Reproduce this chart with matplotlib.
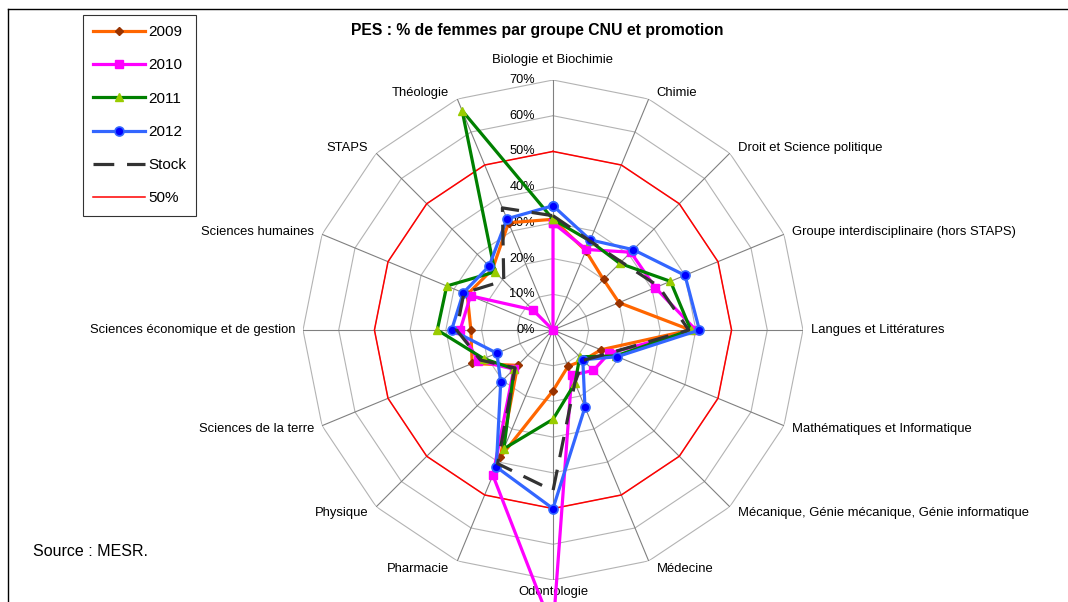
import numpy as np
import matplotlib
matplotlib.use("Agg")
import matplotlib.pyplot as plt
from matplotlib.lines import Line2D

plt.rcParams['font.family'] = ['Liberation Sans', 'DejaVu Sans']

categories = ["Biologie et Biochimie", "Chimie", "Droit et Science politique",
              "Groupe interdisciplinaire (hors STAPS)", "Langues et Littératures",
              "Mathématiques et Informatique",
              "Mécanique, Génie mécanique, Génie informatique", "Médecine",
              "Odontologie", "Pharmacie", "Physique", "Sciences de la terre",
              "Sciences économique et de gestion", "Sciences humaines", "STAPS",
              "Théologie"]
v2009 = [31, 24, 20, 20, 38.5, 14.5, 12, 11, 17, 38.5, 14, 24.5, 23, 26, 24, 32.5]
v2010 = [30, 24.4, 30.8, 31, 40, 17, 16, 13.7, 84, 44, 15.5, 22.6, 26, 25, 8, 0]
v2011 = [31, 27, 26.4, 35.6, 38.6, 19, 10.6, 16.1, 25, 36, 15.4, 21, 32.4, 32.2, 23, 66.5]
v2012 = [34.8, 27.3, 31.8, 40, 41, 19.5, 11.8, 23.4, 50, 41.5, 20.7, 17, 28.4, 27.2, 25.3, 33.7]
stock = [32, 27, 27, 32, 38, 17, 12, 16, 45, 40.5, 15, 22, 27, 27, 19.5, 37]
ref50 = [50] * 16
levels = [0, 10, 20, 30, 40, 50, 60, 70]
level_labels = ["0%", "10%", "20%", "30%", "40%", "50%", "60%", "70%"]
title = "PES : % de femmes par groupe CNU et promotion"
source = "Source : MESR."

W, H = 1068, 602
fig = plt.figure(figsize=(W / 100, H / 100), dpi=100)
fig.patch.set_facecolor('white')

cx, cy, R = 553, 330, 250
ax = fig.add_axes([(cx - R) / W, (H - cy - R) / H, 2 * R / W, 2 * R / H], projection='polar')
ax.set_theta_zero_location('N')
ax.set_theta_direction(-1)
ax.set_ylim(0, 70)
ax.set_xticks([])
ax.set_yticks([])
ax.grid(False)
ax.spines['polar'].set_visible(False)
ax.patch.set_visible(False)

n = len(categories)
theta = np.arange(n) * 2 * np.pi / n
th_closed = np.append(theta, theta[0])

def closed(v):
    v = np.asarray(v, dtype=float)
    return np.append(v, v[0])

# polygon grid
for lv in levels[1:]:
    ax.plot(th_closed, np.full(n + 1, lv), color='#b3b3b3', lw=0.8, zorder=1)
for t in theta:
    ax.plot([t, t], [0, levels[-1]], color='#808080', lw=0.8, zorder=1)

# tick labels
for lv, lab in zip(levels, level_labels):
    ax.annotate(lab, xy=(0, lv), xytext=(-13, 0), textcoords='offset points',
                ha='right', va='center', fontsize=9.2, color='black',
                annotation_clip=False, zorder=2)

# category labels
for t, lab in zip(theta, categories):
    s, c = np.sin(t), np.cos(t)
    if abs(s) < 0.1:
        dx, dy, ha = 0, (20 if c > 0 else -12), 'center'
    else:
        dx = 8 * np.sign(s)
        dy = 7 * c if c > 0 else 9 * c
        ha = 'left' if s > 0 else 'right'
    ax.annotate(lab, xy=(t, levels[-1]), xytext=(dx * 0.72, dy * 0.72),
                textcoords='offset points', ha=ha, va='center', fontsize=9.4,
                annotation_clip=False, zorder=2)

lw = 2.3
ax.plot(th_closed, closed(v2009), color='#FF6600', lw=lw, marker='D', ms=4.5,
        mfc='#993300', mec='#993300', label='2009', zorder=3, clip_on=False)
ax.plot(th_closed, closed(v2010), color='#FF00FF', lw=lw, marker='s', ms=5.5,
        mfc='#FF00FF', mec='#FF00FF', label='2010', zorder=4, clip_on=False)
ax.plot(th_closed, closed(v2011), color='#008000', lw=lw, marker='^', ms=6,
        mfc='#99CC00', mec='#99CC00', label='2011', zorder=5, clip_on=False)
ax.plot(th_closed, closed(v2012), color='#3366FF', lw=lw, marker='o', ms=6.5,
        mfc='#0000FF', mec='#3366FF', mew=1.2, label='2012', zorder=6, clip_on=False)
ax.plot(th_closed, closed(stock), color='#333333', lw=2.3, linestyle=(0, (6.5, 4)),
        label='Stock', zorder=7, clip_on=False)
ax.plot(th_closed, closed(ref50), color='#FF0000', lw=1.1, label='50%', zorder=2,
        clip_on=False)

handles, labels = ax.get_legend_handles_labels()
leg = fig.legend(handles, labels, loc='upper left',
                 bbox_to_anchor=(82.7 / W, 1 - 15 / H), fontsize=11,
                 frameon=True, fancybox=False, edgecolor='black',
                 handlelength=3.4, handletextpad=0.2, labelspacing=1.26,
                 borderpad=0.67, borderaxespad=0)
leg.get_frame().set_linewidth(0.8)

fig.text(537.7 / W, 1 - 30 / H, title, ha='center', va='center',
         fontsize=11.3, fontweight='bold')
fig.text(32.7 / W, 1 - 551 / H, source, ha='left', va='center', fontsize=11.5)

# chart border
fig.add_artist(Line2D([8 / W, 1], [1 - 8.5 / H, 1 - 8.5 / H], color='black', lw=1.0))
fig.add_artist(Line2D([8 / W, 8 / W], [0, 1 - 8.5 / H], color='black', lw=1.0))

fig.savefig('out.png', dpi=100, facecolor='white')
